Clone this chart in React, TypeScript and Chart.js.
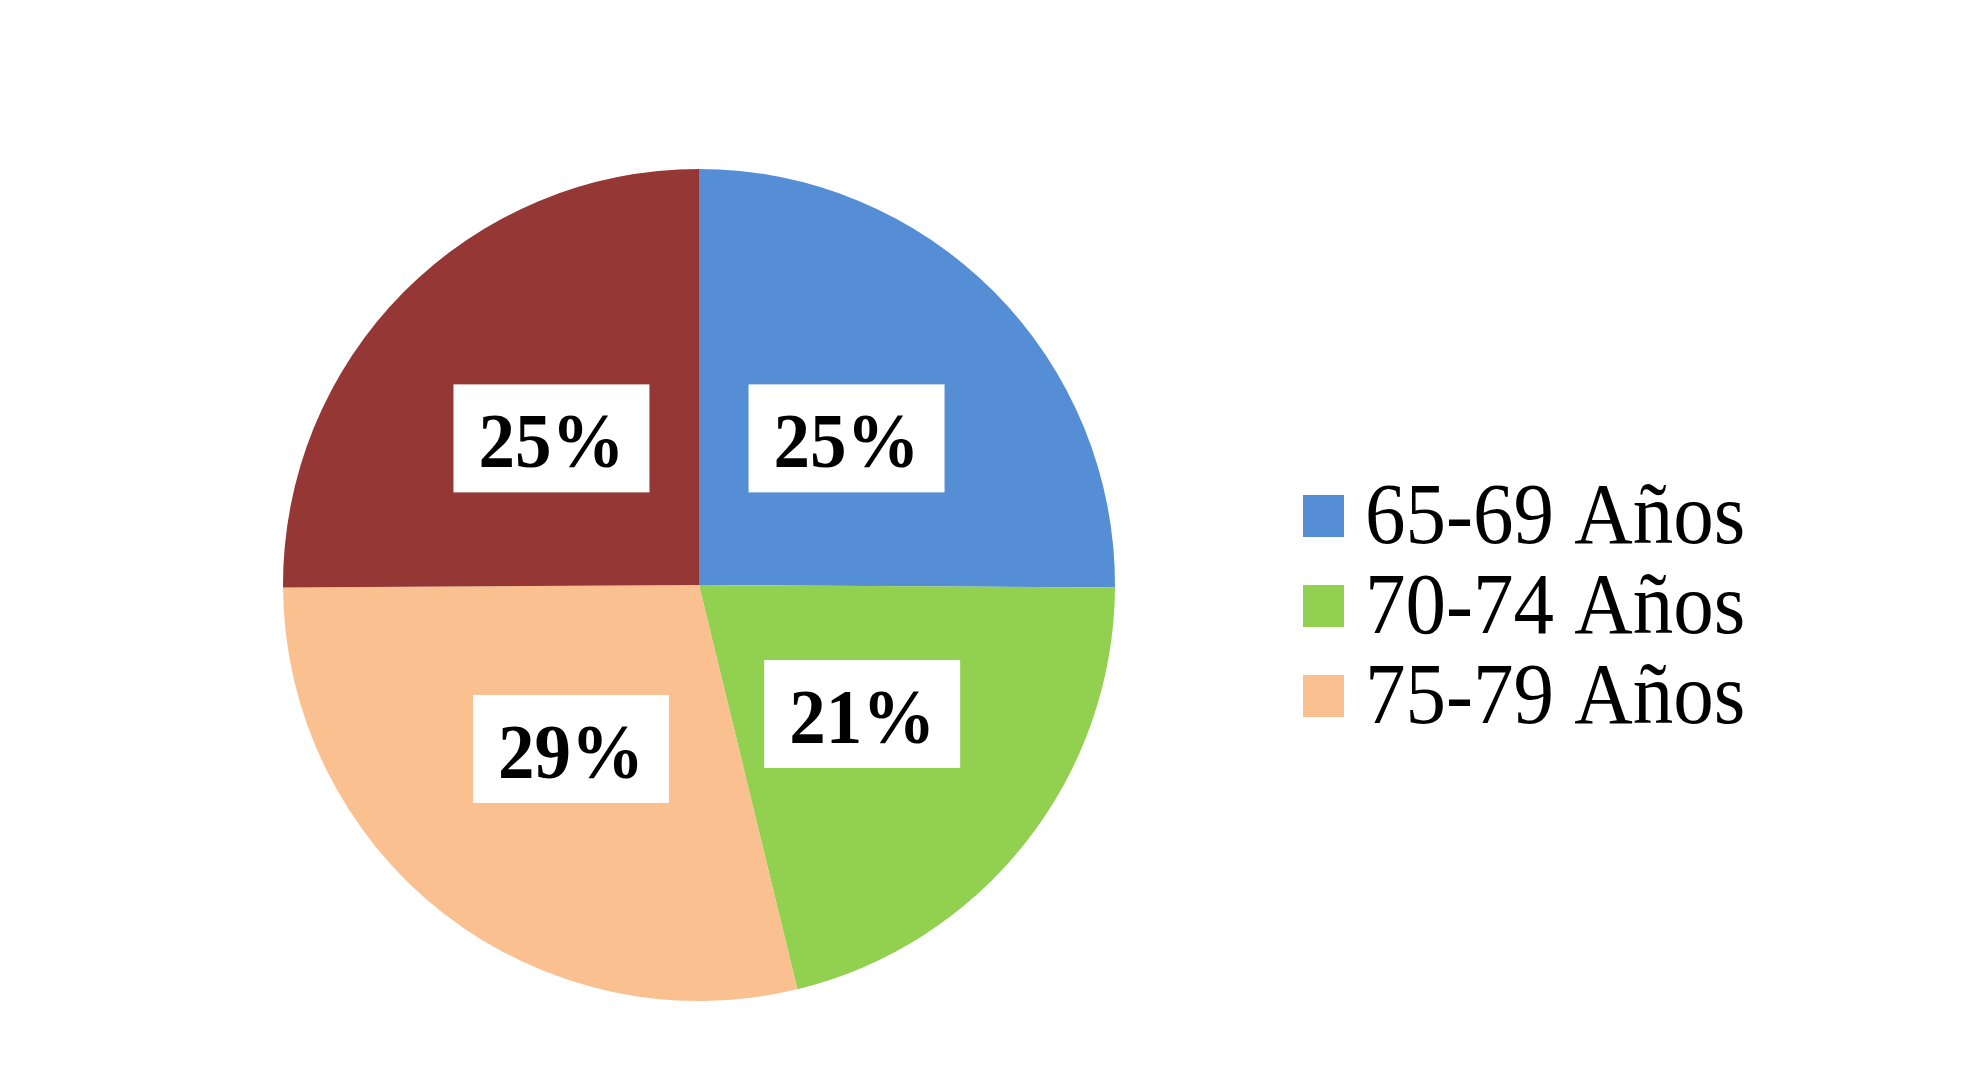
import React, { useEffect, useRef } from 'react';
import { Chart, registerables } from 'chart.js';

Chart.register(...registerables);

const categories = ['65-69 Años', '70-74 Años', '75-79 Años', ''];
const values = [25.1, 21.1, 28.7, 25.1];
const colors = ['#558ED5', '#92D050', '#FAC090', '#953735'];

const W = 1985;
const H = 1075;
const STRETCH = 1.07;

const labelPlugin = {
  id: 'boxLabels',
  afterDatasetsDraw(chart: any) {
    const ctx = chart.ctx as CanvasRenderingContext2D;
    const meta = chart.getDatasetMeta(0);
    const data = chart.data.datasets[0].data as number[];
    const total = data.reduce((a, b) => a + b, 0);
    meta.data.forEach((arc: any, i: number) => {
      const mid = (arc.startAngle + arc.endAngle) / 2;
      const r = arc.outerRadius / 2;
      const x = arc.x + Math.cos(mid) * r;
      const y = arc.y + Math.sin(mid) * r;
      const text = `${Math.round((data[i] / total) * 100)}%`;
      ctx.save();
      ctx.font = 'bold 73px "Liberation Serif", "Times New Roman", serif';
      const tw = ctx.measureText(text).width;
      const bw = tw + 50;
      const bh = 108;
      ctx.fillStyle = '#FFFFFF';
      ctx.fillRect(x - bw / 2, y - bh / 2, bw, bh);
      ctx.translate(x, y + 29);
      ctx.scale(1, STRETCH);
      ctx.fillStyle = '#000000';
      ctx.textAlign = 'center';
      ctx.textBaseline = 'alphabetic';
      ctx.fillText(text, 0, 0);
      ctx.restore();
    });
  },
};

const legendPlugin = {
  id: 'customLegend',
  afterDraw(chart: any) {
    const ctx = chart.ctx as CanvasRenderingContext2D;
    const boxX = 1303;
    const boxTop = 495;
    const rowGap = 90;
    let row = 0;
    categories.forEach((name, i) => {
      if (!name) return;
      const top = boxTop + row * rowGap;
      ctx.save();
      ctx.fillStyle = colors[i];
      ctx.fillRect(boxX, top, 41, 42);
      ctx.translate(1365, top + 48);
      ctx.scale(1, STRETCH);
      ctx.fillStyle = '#000000';
      ctx.font = '81px "Liberation Serif", "Times New Roman", serif';
      ctx.textAlign = 'left';
      ctx.textBaseline = 'alphabetic';
      ctx.fillText(name, 0, 0);
      ctx.restore();
      row++;
    });
  },
};

export default function App() {
  const ref = useRef<HTMLCanvasElement | null>(null);
  useEffect(() => {
    if (!ref.current) return;
    const chart = new Chart(ref.current, {
      type: 'pie',
      data: {
        labels: categories,
        datasets: [
          {
            data: values,
            backgroundColor: colors,
            borderWidth: 0,
          },
        ],
      },
      options: {
        responsive: false,
        animation: false,
        layout: { padding: { left: 283, right: 870, top: 169, bottom: 74 } },
        plugins: {
          legend: { display: false },
          tooltip: { enabled: false },
        },
      },
      plugins: [labelPlugin, legendPlugin],
    });
    return () => chart.destroy();
  }, []);
  return (
    <div style={{ position: 'absolute', left: 0, top: 0, width: W, height: H, background: '#FFFFFF' }}>
      <canvas ref={ref} width={W} height={H} style={{ display: 'block', width: W, height: H }} />
    </div>
  );
}
